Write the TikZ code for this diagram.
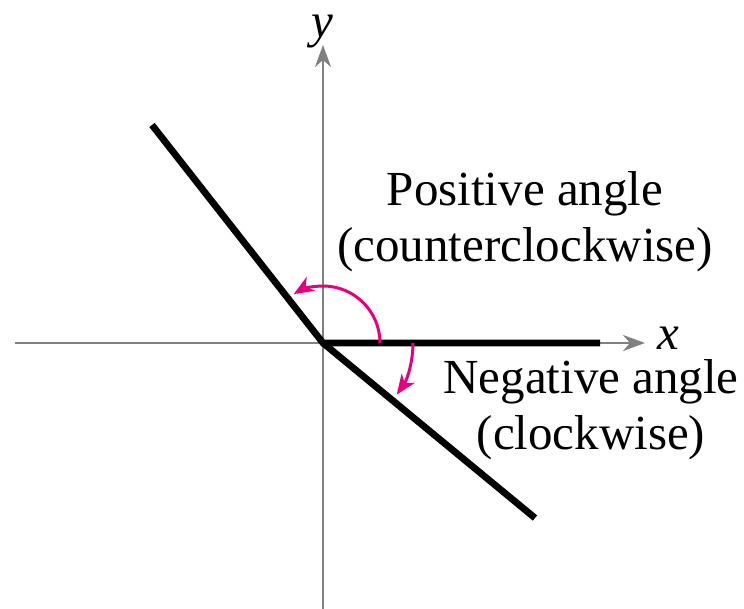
\documentclass[tikz,border=0pt]{standalone}
\usepackage{fontspec}
\setmainfont{Liberation Serif}
\usepackage{tikz}
\usetikzlibrary{arrows.meta}
\definecolor{axisgray}{HTML}{808080}
\definecolor{anglepink}{HTML}{E6007E}

\begin{document}
\begin{tikzpicture}[x=0.5pt,y=0.5pt,font=\fontsize{24.5}{27.8}\selectfont,
  axisline/.style={draw=axisgray,line width=1.3pt,-{Stealth[length=11pt,width=8pt,inset=3.5pt]}},
  sideline/.style={draw=black,line width=3.4pt},
  anglearc/.style={draw=anglepink,line width=1.5pt,-{Stealth[length=10pt,width=8pt,inset=3pt]}},
  axislabel/.style={font=\fontsize{24.5}{27.8}\selectfont\itshape,inner sep=0pt}]
\useasboundingbox (-323,-266) rectangle (421,343);
% axes
\coordinate (O) at (0,0);
\coordinate (xstart) at (-308,0);
\coordinate (xend) at (322,0);
\coordinate (ystart) at (0,-266);
\coordinate (yend) at (0,298);
\draw[axisline] (xstart) -- (xend);
\draw[axisline] (ystart) -- (yend);
\node[axislabel] (xlabel) at (345,5) {x};
\node[axislabel] (ylabel) at (-1,311) {y};
% sides of the angles
\coordinate (initial) at (277,0);
\coordinate (posside) at (-171,218);
\coordinate (negside) at (212,-175);
\draw[sideline] (posside) -- (O) -- (initial);
\draw[sideline] (O) -- (negside);
% angle arcs
\draw[anglearc] ([shift={(0:57)}]O) arc[start angle=0,end angle=121,radius=57];
\draw[anglearc] ([shift={(0:90)}]O) arc[start angle=0,end angle=-35,radius=90];
\node[align=center,inner sep=0pt] (poslabel) at (202,121) {Positive angle\\(counterclockwise)};
\node[align=center,inner sep=0pt] (neglabel) at (268,-67) {Negative angle\\(clockwise)};
\end{tikzpicture}
\end{document}
